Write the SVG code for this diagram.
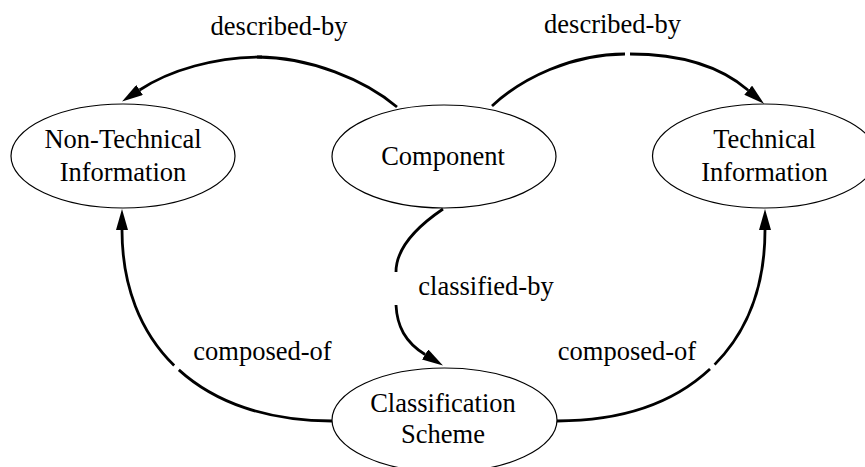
<svg xmlns="http://www.w3.org/2000/svg" width="865" height="467" viewBox="0 0 865 467">
  <style>
    .node ellipse { fill: #ffffff; stroke: #000000; stroke-width: 1.2; }
    .lbl { font-family: "Liberation Serif", "Times New Roman", Times, serif; font-size: 26.5px; fill: #000000; text-anchor: middle; }
    .edge { fill: none; stroke: #000000; stroke-width: 2.8; }
  </style>
  <defs>
    <marker id="arrow" markerUnits="userSpaceOnUse" viewBox="0 0 21 12" markerWidth="21" markerHeight="12" refX="0" refY="6" orient="auto">
      <path d="M0,0 L21,6 L0,12 Z" fill="#000000"/>
    </marker>
  </defs>

  <rect width="865" height="467" fill="#ffffff"/>

  <g id="connectors">
    <!-- Component -> Non-Technical Information (described-by) -->
    <path class="edge" d="M397,107 C365,80 310,57 257,57"/>
    <path class="edge" d="M262,57 C215,57 170,70 139.6,90" marker-end="url(#arrow)"/>
    <!-- Component -> Technical Information (described-by) -->
    <path class="edge" d="M492,106 C522,78 572,54 625,54"/>
    <path class="edge" d="M630,54 C680,54 720,66 748.2,90.2" marker-end="url(#arrow)"/>
    <!-- Component -> Classification Scheme (classified-by) -->
    <path class="edge" d="M443,209 C415,228 396,250 396,272"/>
    <path class="edge" d="M396,305 C397,326 405,342 425.1,354.5" marker-end="url(#arrow)"/>
    <!-- Classification Scheme -> Non-Technical Information (composed-of) -->
    <path class="edge" d="M332,421 C200,421 122,345 122,230" pathLength="1000" stroke-dasharray="515 20 1000" marker-end="url(#arrow)"/>
    <!-- Classification Scheme -> Technical Information (composed-of) -->
    <path class="edge" d="M557,421 C689,421 765,345 765,230" pathLength="1000" stroke-dasharray="518 20 1000" marker-end="url(#arrow)"/>
  </g>

  <g id="edge-labels">
    <text class="lbl" x="279" y="35">described-by</text>
    <text class="lbl" x="612.5" y="33">described-by</text>
    <text class="lbl" x="486" y="295">classified-by</text>
    <text class="lbl" x="262.5" y="360">composed-of</text>
    <text class="lbl" x="627" y="360">composed-of</text>
  </g>

  <g id="node-non-technical" class="node">
    <ellipse cx="123" cy="156" rx="112" ry="52"/>
    <text class="lbl" x="123" y="148">Non-Technical</text>
    <text class="lbl" x="123" y="181">Information</text>
  </g>

  <g id="node-component" class="node">
    <ellipse cx="444" cy="156.5" rx="112" ry="51.5"/>
    <text class="lbl" x="443" y="165">Component</text>
  </g>

  <g id="node-technical" class="node">
    <ellipse cx="764.5" cy="156" rx="112" ry="52"/>
    <text class="lbl" x="764.5" y="148">Technical</text>
    <text class="lbl" x="764.5" y="181">Information</text>
  </g>

  <g id="node-classification" class="node">
    <ellipse cx="444.5" cy="420" rx="112.5" ry="52"/>
    <text class="lbl" x="443" y="412">Classification</text>
    <text class="lbl" x="443" y="443">Scheme</text>
  </g>
</svg>
